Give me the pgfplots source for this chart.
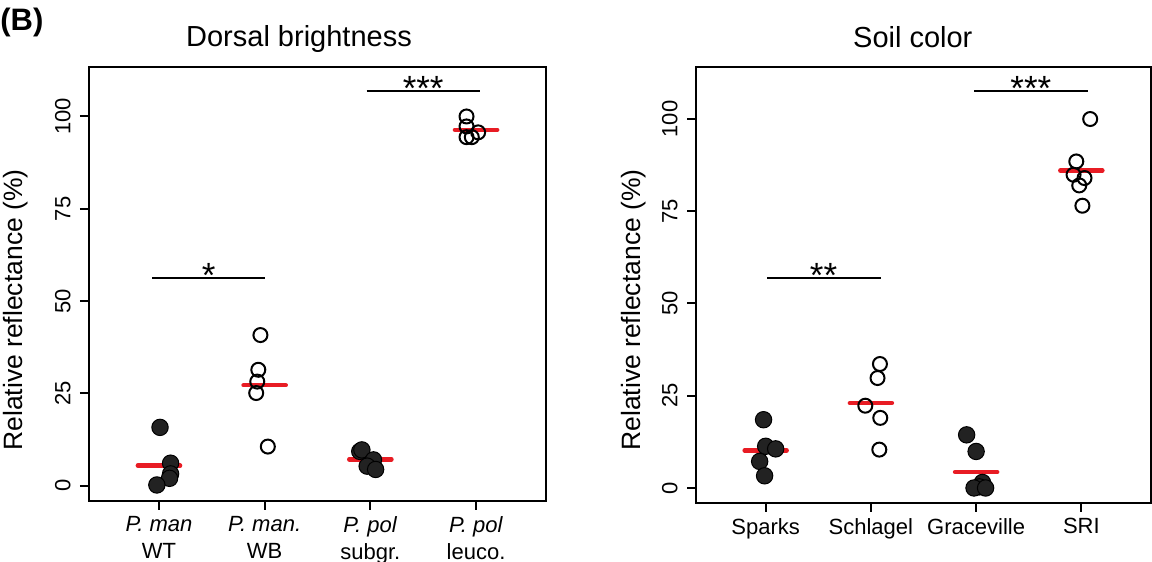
\documentclass[border=0pt]{standalone}
\usepackage{pgfplots}
\pgfplotsset{compat=1.18}
\usepackage{fontspec}
\setmainfont{Liberation Sans}

\definecolor{meanred}{RGB}{232,28,36}
\definecolor{dotfill}{RGB}{34,34,34}

\pgfplotsset{
  panel/.style={
    scale only axis, anchor=south west,
    xmin=0.338, xmax=4.662,
    xtick={1,2,3,4}, ytick={0,25,50,75,100},
    axis line style={line width=1pt},
    every tick/.style={black, line width=1pt},
    major tick length=4.5pt, tick align=outside,
    xtick pos=left, ytick pos=left,
    tick label style={font=\fontsize{11}{13.65}\selectfont},
    yticklabel style={xshift=-4.5pt, rotate=90, anchor=south, inner sep=0pt},
    xticklabel style={yshift=-3pt, anchor=north, align=center, inner sep=0pt},
    /pgf/number format/assume math mode=true,
    clip=false,
  },
  filled/.style={only marks, mark=*, mark size=4.1pt,
    mark options={fill=dotfill, draw=black, line width=0.5pt}},
  open/.style={only marks, mark=o, mark size=3.5pt,
    mark options={draw=black, line width=1pt}},
  meanbar/.style={meanred, line width=2.2pt, line cap=round, no marks},
  sigbar/.style={black, line width=1pt, no marks},
}
\tikzset{
  stars/.style={anchor=base, yshift=-4.7pt, inner sep=0pt,
    font=\fontsize{17.5}{17.5}\selectfont},
}

\begin{document}
\begin{tikzpicture}
\useasboundingbox (0,0) rectangle (576pt,281pt);

% ---------------- Dorsal brightness ----------------
\begin{axis}[panel, at={(44.5pt,30.5pt)}, width=228.5pt, height=217pt,
  ymin=-4.14, ymax=113.4,
  xticklabels={{\textit{P. man}\\WT},{\textit{P. man.}\\WB},
               {\textit{P. pol}\\subgr.},{\textit{P. pol}\\leuco.}}]
  % P. man WT
  \addplot[filled] table {
    x y
    1.01 15.8
    1.11 6.1
    1.11 3.2
    1.10 2.0
    0.98 0.2
  };
  % P. man. WB
  \addplot[open] table {
    x y
    1.96 40.8
    1.94 31.4
    1.93 28.2
    1.92 25.1
    2.03 10.6
  };
  % P. pol subgr.
  \addplot[filled] table {
    x y
    2.90 9.3
    2.92 9.7
    3.03 7.0
    2.97 5.3
    3.05 4.4
  };
  % P. pol leuco.
  \addplot[open] table {
    x y
    3.91 100.0
    3.91 97.3
    4.02 95.7
    3.91 94.4
    3.96 94.4
  };
  % group means
  \addplot[meanbar] coordinates {(0.8,5.42) (1.2,5.42)};
  \addplot[meanbar] coordinates {(1.8,27.2) (2.2,27.2)};
  \addplot[meanbar] coordinates {(2.8,7.15) (3.2,7.15)};
  \addplot[meanbar] coordinates {(3.8,96.4) (4.2,96.4)};
  % significance
  \addplot[sigbar] coordinates {(0.935,56.3) (2.005,56.3)};
  \addplot[sigbar] coordinates {(2.965,106.9) (4.035,106.9)};
  \node[stars] at (axis cs:1.47,56.3) {*};
  \node[stars] at (axis cs:3.50,106.9) {***};
\end{axis}

% ---------------- Soil color ----------------
\begin{axis}[panel, at={(348pt,29.5pt)}, width=227.5pt, height=218pt,
  ymin=-4.07, ymax=114.1,
  xticklabels={Sparks,Schlagel,Graceville,SRI}]
  % Sparks
  \addplot[filled] table {
    x y
    0.98 18.5
    1.00 11.3
    1.095 10.6
    0.943 7.2
    0.99 3.3
  };
  % Schlagel
  \addplot[open] table {
    x y
    2.086 33.6
    2.063 29.8
    1.947 22.3
    2.089 19.0
    2.08 10.4
  };
  % Graceville
  \addplot[filled] table {
    x y
    2.91 14.4
    3.00 9.9
    3.06 1.5
    3.03 0.3
    2.98 0.0
    3.09 0.0
  };
  % SRI
  \addplot[open] table {
    x y
    4.084 100.0
    3.952 88.5
    3.926 84.9
    4.03 84.0
    3.98 82.0
    4.01 76.5
  };
  % group means
  \addplot[meanbar] coordinates {(0.8,10.2) (1.2,10.2)};
  \addplot[meanbar] coordinates {(1.8,23.0) (2.2,23.0)};
  \addplot[meanbar] coordinates {(2.8,4.35) (3.2,4.35)};
  \addplot[meanbar] coordinates {(3.8,86.0) (4.2,86.0)};
  % significance
  \addplot[sigbar] coordinates {(1.016,56.9) (2.096,56.9)};
  \addplot[sigbar] coordinates {(2.98,107.7) (4.06,107.7)};
  \node[stars] at (axis cs:1.55,56.9) {**};
  \node[stars] at (axis cs:3.52,107.7) {***};
\end{axis}

% panel tag, titles and axis labels
\node[anchor=base west, inner sep=0pt, font=\bfseries\fontsize{15.5}{15.5}\selectfont]
  at (0pt,265.8pt) {(B)};
\node[anchor=base, inner sep=0pt, font=\fontsize{14.5}{14.5}\selectfont]
  at (149.5pt,257.5pt) {Dorsal brightness};
\node[anchor=base, inner sep=0pt, font=\fontsize{14.5}{14.5}\selectfont]
  at (456.4pt,257.4pt) {Soil color};
\node[rotate=90, inner sep=0pt, font=\fontsize{13.25}{13.25}\selectfont]
  at (8pt,126pt) {Relative reflectance (\%)};
\node[rotate=90, inner sep=0pt, font=\fontsize{13.25}{13.25}\selectfont]
  at (317pt,126pt) {Relative reflectance (\%)};
\end{tikzpicture}
\end{document}
